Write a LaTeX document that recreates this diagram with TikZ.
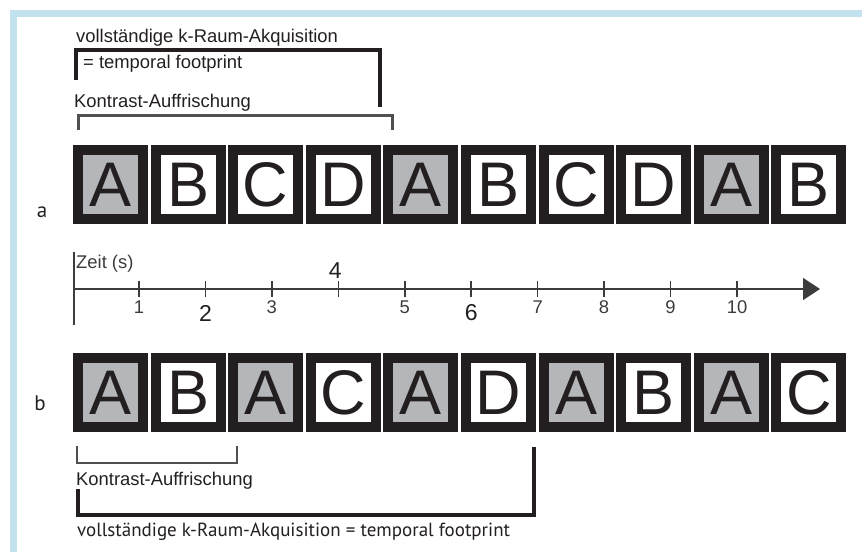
\documentclass[tikz,border=0pt]{standalone}
\usepackage{fontspec}
\setmainfont{Liberation Sans}
\newfontfamily\humanfont{PT Sans}
\usetikzlibrary{arrows.meta}

\definecolor{frameblue}{RGB}{194,226,238}
\definecolor{cellblack}{RGB}{35,31,32}
\definecolor{cellgray}{RGB}{180,182,186}
\definecolor{axisgray}{RGB}{60,60,60}
\definecolor{bracketgray}{RGB}{80,80,80}

\tikzset{
	cell/.style={draw=cellblack, line width=10pt, minimum width=65pt, minimum height=69pt,
		inner sep=0pt, text=cellblack, font=\fontsize{63}{63}\selectfont},
	note/.style={inner sep=0pt, anchor=base west, text=cellblack, font=\fontsize{18.4}{20}\selectfont},
	rowlabel/.style={inner sep=0pt, anchor=base, text=cellblack, font=\humanfont\fontsize{21}{22}\selectfont},
	ticknum/.style={inner sep=0pt, anchor=base, text=axisgray, font=\fontsize{18.4}{20}\selectfont},
	bignum/.style={inner sep=0pt, anchor=base, text=cellblack, font=\fontsize{23}{24}\selectfont},
	axis/.style={draw=axisgray, line width=1.5pt},
	bracket/.style={draw=bracketgray, line width=3pt},
	heavybracket/.style={draw=cellblack, line width=4pt},
}

\begin{document}
\begin{tikzpicture}[x=1pt,y=-1pt]
	\newcommand\cellstep{77.6}
	\newcommand\tickstep{66.45}
	\useasboundingbox (0,0) rectangle (862,552);
	% frame
	\fill[frameblue] (10,10) rectangle (862,17);
	\fill[frameblue] (10,10) rectangle (17,552);
	% row a
	\foreach \l/\f [count=\i] in {A/cellgray,B/white,C/white,D/white,A/cellgray,B/white,C/white,D/white,A/cellgray,B/white} {
		\node[cell, fill=\f] (a\i) at ({110.5+\cellstep*(\i-1)},184.5) {\l};
	}
	\node[rowlabel] (la) at (42,217) {a};
	% row b
	\foreach \l/\f [count=\i] in {A/cellgray,B/white,A/cellgray,C/white,A/cellgray,D/white,A/cellgray,B/white,A/cellgray,C/white} {
		\node[cell, fill=\f] (b\i) at ({110.5+\cellstep*(\i-1)},392.5) {\l};
	}
	\node[rowlabel] (lb) at (40,410) {b};
	% brackets above row a
	\node[note] (fullA) at (76,42) {vollständige k-Raum-Akquisition};
	\node[note] (fullAb) at (83,68) {= temporal footprint};
	\coordinate (fullL) at (76,80);
	\coordinate (fullC) at (380,50);
	\coordinate (fullR) at (380,107);
	\draw[heavybracket] (fullL) |- (fullC) -- (fullR);
	\node[note] (kontA) at (74,107) {Kontrast-Auffrischung};
	\coordinate (kontL) at (78,130);
	\coordinate (kontC) at (392,115);
	\coordinate (kontR) at (392,130);
	\draw[bracket] (kontL) |- (kontC) -- (kontR);
	% time axis
	\coordinate (origin) at (73,289);
	\coordinate (tip) at (820,289);
	\coordinate (ztop) at (74,252);
	\coordinate (zbot) at (74,325);
	\draw[axis] (ztop) -- (zbot);
	\draw[axis,-{Triangle[length=17pt,width=22pt]}] (origin) -- (tip);
	\node[note, text=axisgray] (zeit) at (76,268) {Zeit (s)};
	\foreach \i in {1,...,10} {
		\draw[axis] ({72.5+\tickstep*\i},281) -- ({72.5+\tickstep*\i},297);
	}
	\foreach \i in {1,3,5,7,8,9,10} {
		\node[ticknum] (n\i) at ({72.5+\tickstep*\i},313) {\i};
	}
	\node[bignum] (n2) at ({72.5+\tickstep*2},321.5) {2};
	\node[bignum] (n4) at ({72.5+\tickstep*4-3},278) {4};
	\node[bignum] (n6) at ({72.5+\tickstep*6},320.5) {6};
	% brackets below row b
	\coordinate (kontBL) at (77,446);
	\coordinate (kontBC) at (237,463);
	\coordinate (kontBR) at (237,446);
	\draw[bracket, line width=2.5pt] (kontBL) |- (kontBC) -- (kontBR);
	\node[note] (kontB) at (76,485) {Kontrast-Auffrischung};
	\coordinate (fullBL) at (78,489);
	\coordinate (fullBC) at (534,515);
	\coordinate (fullBR) at (534,447);
	\draw[heavybracket] (fullBL) |- (fullBC) -- (fullBR);
	\node[note, font=\humanfont\fontsize{19}{21}\selectfont] (fullB) at (77,536) {vollständige k-Raum-Akquisition = temporal footprint};
\end{tikzpicture}
\end{document}
